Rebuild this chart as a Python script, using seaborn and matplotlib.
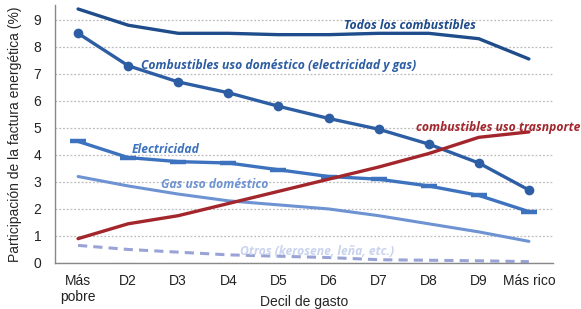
import matplotlib
matplotlib.use("Agg")
import matplotlib.pyplot as plt
import seaborn as sns
import pandas as pd

deciles = ["Más\npobre", "D2", "D3", "D4", "D5", "D6", "D7", "D8", "D9", "Más rico"]
todos = [9.4, 8.8, 8.5, 8.5, 8.45, 8.45, 8.5, 8.5, 8.3, 7.55]
domestico = [8.5, 7.3, 6.7, 6.3, 5.8, 5.35, 4.95, 4.4, 3.7, 2.7]
electricidad = [4.5, 3.9, 3.75, 3.7, 3.45, 3.2, 3.1, 2.85, 2.5, 1.9]
gas = [3.2, 2.85, 2.55, 2.3, 2.15, 2.0, 1.75, 1.45, 1.15, 0.8]
transporte = [0.9, 1.45, 1.75, 2.2, 2.65, 3.1, 3.55, 4.05, 4.65, 4.85]
otros = [0.65, 0.5, 0.4, 0.3, 0.25, 0.2, 0.12, 0.1, 0.08, 0.05]

sns.set_style("white")
plt.rcParams['font.family'] = ['Liberation Sans', 'DejaVu Sans']

fig = plt.figure(figsize=(5.81, 3.09), dpi=100)
ax = fig.add_axes([0.0947, 0.149, 0.857, 0.835])

x = list(range(len(deciles)))
df = pd.DataFrame({"x": x, "todos": todos, "domestico": domestico,
                   "electricidad": electricidad, "gas": gas,
                   "transporte": transporte, "otros": otros})

sns.lineplot(data=df, x="x", y="todos", ax=ax, color="#1F4C8A", linewidth=2.4)
sns.lineplot(data=df, x="x", y="domestico", ax=ax, color="#2D5DA3", linewidth=2.4,
             marker="o", markersize=7, markeredgewidth=0)
sns.lineplot(data=df, x="x", y="electricidad", ax=ax, color="#3D72BE", linewidth=2.4,
             marker="_", markersize=12, markeredgewidth=3.2, markeredgecolor="#3D72BE")
sns.lineplot(data=df, x="x", y="gas", ax=ax, color="#6E93D2", linewidth=2.2)
sns.lineplot(data=df, x="x", y="transporte", ax=ax, color="#A3262C", linewidth=2.4)
sns.lineplot(data=df, x="x", y="otros", ax=ax, color="#9AA3D6", linewidth=2.2,
             linestyle=(0, (3, 2)))

ax.set_xlim(-0.46, 9.48)
ax.set_ylim(0, 9.55)
ax.set_yticks(range(0, 10))
ax.set_xticks(x)
ax.set_xticklabels(deciles)
ax.tick_params(axis="both", labelsize=10, length=0, colors="#222222")
ax.tick_params(axis="x", pad=8)
ax.tick_params(axis="y", pad=10)
ax.yaxis.grid(True, linestyle=(0, (1.5, 1.5)), color="#BBBBBB", linewidth=0.9)
ax.xaxis.grid(False)
for s in ["top", "right"]:
    ax.spines[s].set_visible(False)
for s in ["left", "bottom"]:
    ax.spines[s].set_color("#888888")
    ax.spines[s].set_linewidth(1.0)

ax.set_xlabel("Decil de gasto", fontsize=10, labelpad=-6.5)
ax.set_ylabel("Participación de la factura energética (%)", fontsize=10, labelpad=8)

lab = dict(fontsize=8.7, fontstyle="italic", fontweight="bold", family=["Open Sans", "DejaVu Sans"])
ax.text(5.3, 8.78, "Todos los combustibles", color="#1F4C8A", ha="left", va="center", **lab)
ax.text(1.26, 7.3, "Combustibles uso doméstico (electricidad y gas)", color="#2D5DA3",
        ha="left", va="center", **lab)
ax.text(1.08, 4.19, "Electricidad", color="#3D72BE", ha="left", va="center", **lab)
ax.text(1.65, 2.89, "Gas uso doméstico", color="#6E93D2", ha="left", va="center", **lab)
ax.text(6.74, 5.0, "combustibles uso trasnporte", color="#A3262C", ha="left", va="center", **lab)
ax.text(3.24, 0.41, "Otros (kerosene, leña, etc.)", color="#C9D3EE", ha="left", va="center", **lab)

fig.savefig("out.png", dpi=100)
